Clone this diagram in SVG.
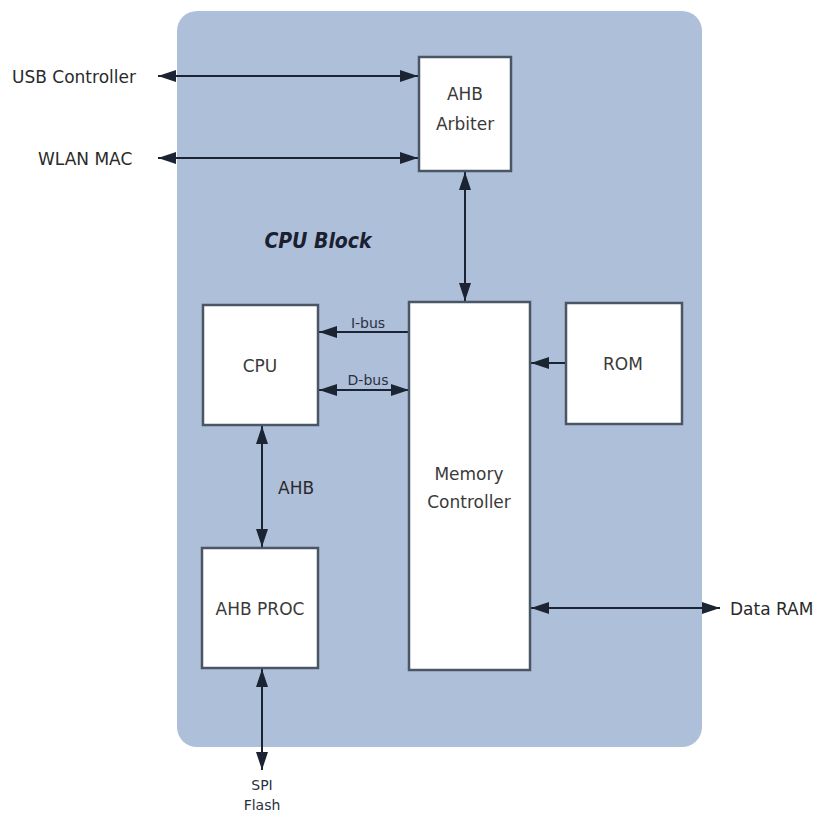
<svg xmlns="http://www.w3.org/2000/svg" width="816" height="814" viewBox="0 0 816 814">
<defs>
<style>
.box{fill:#ffffff;stroke:#4a5566;stroke-width:2.5}
.lbl{font-family:"DejaVu Sans",sans-serif;font-size:17px;fill:#3a3a3a;text-anchor:middle}
.ext{font-family:"DejaVu Sans",sans-serif;font-size:17px;fill:#2a2a2a}
.sm{font-family:"DejaVu Sans",sans-serif;font-size:14px;fill:#2a3040;text-anchor:middle}
.ln{stroke:#1c2433;stroke-width:2;fill:none;marker-start:url(#ah);marker-end:url(#ah)}
.ln1{stroke:#1c2433;stroke-width:2;fill:none;marker-end:url(#ah)}
</style>
<marker id="ah" viewBox="0 0 10 10" refX="10" refY="5" markerWidth="9" markerHeight="6" orient="auto-start-reverse" markerUnits="strokeWidth" preserveAspectRatio="none">
<path d="M0,0 L10,5 L0,10 z" fill="#1c2433"/>
</marker>
</defs>
<rect x="0" y="0" width="816" height="814" fill="#ffffff"/>
<rect x="177" y="11" width="525" height="736" rx="20" fill="#aebfd9"/>
<text x="318" y="248" font-family="'DejaVu Sans Condensed','DejaVu Sans',sans-serif" font-size="21" font-style="italic" font-weight="bold" fill="#1a2030" text-anchor="middle">CPU Block</text>

<g id="connectors">
<line class="ln" x1="158" y1="76" x2="418" y2="76"/>
<line class="ln" x1="158" y1="158" x2="418" y2="158"/>
<line class="ln" x1="465" y1="172" x2="465" y2="301"/>
<line class="ln1" x1="409" y1="332" x2="319" y2="332"/>
<text class="sm" x="368" y="328">I-bus</text>
<line class="ln" x1="319" y1="390" x2="409" y2="390"/>
<text class="sm" x="368" y="385">D-bus</text>
<line class="ln1" x1="566" y1="363" x2="531" y2="363"/>
<line class="ln" x1="262" y1="426" x2="262" y2="547"/>
<text class="ext" x="278" y="494">AHB</text>
<line class="ln" x1="262" y1="669" x2="262" y2="770"/>
<line class="ln" x1="531" y1="608" x2="720" y2="608"/>
</g>

<g id="usb"><text class="ext" x="12" y="83">USB Controller</text></g>
<g id="wlan"><text class="ext" x="38" y="165">WLAN MAC</text></g>
<g id="arbiter"><rect class="box" x="419" y="57" width="92" height="114"/>
<text class="lbl" x="465" y="100">AHB</text><text class="lbl" x="465" y="130">Arbiter</text></g>
<g id="cpu"><rect class="box" x="203" y="305" width="115" height="120"/>
<text class="lbl" x="260" y="372">CPU</text></g>
<g id="memctrl"><rect class="box" x="409" y="302" width="121" height="368"/>
<text class="lbl" x="469" y="480">Memory</text><text class="lbl" x="469" y="508">Controller</text></g>
<g id="rom"><rect class="box" x="566" y="303" width="116" height="121"/>
<text class="lbl" x="623" y="370">ROM</text></g>
<g id="ahbproc"><rect class="box" x="202" y="548" width="116" height="120"/>
<text class="lbl" x="260" y="615">AHB PROC</text></g>
<g id="spi"><text class="sm" x="262" y="790">SPI</text><text class="sm" x="262" y="810">Flash</text></g>
<g id="dataram"><text class="ext" x="730" y="615">Data RAM</text></g>
</svg>
